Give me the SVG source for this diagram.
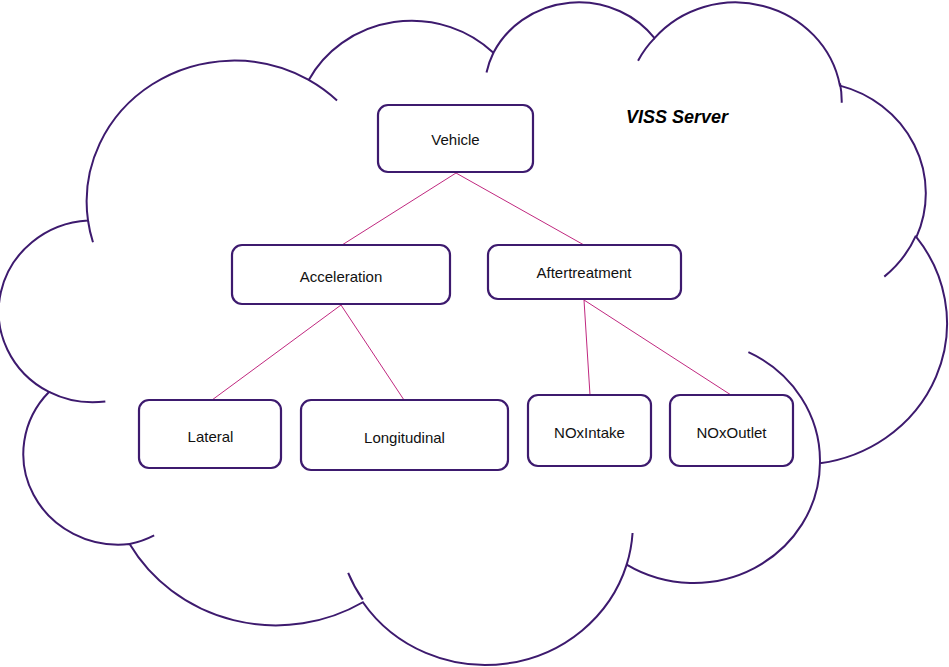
<svg xmlns="http://www.w3.org/2000/svg" width="949" height="667" viewBox="0 0 949 667">
<style>
.cloud{fill:none;stroke:#3d1a6e;stroke-width:2;stroke-linecap:butt}
.box{fill:#fff;stroke:#3d1a6e;stroke-width:2.2}
.lbl{font-family:"Liberation Sans",Arial,sans-serif;font-size:15px;fill:#111;text-anchor:middle}
.title{font-family:"Liberation Sans",Arial,sans-serif;font-size:18px;font-weight:bold;font-style:italic;fill:#000;text-anchor:middle}
.conn{stroke:#c0287f;stroke-width:1;fill:none}
</style>
<rect x="0" y="0" width="949" height="667" fill="#fff"/>
<g id="cloud" transform="translate(2.81,0.15) scale(0.021846,0.015334)">
<path class="cloud" vector-effect="non-scaling-stroke" d="M3900 14370 A6753 9190 0 0 1 14005 5202 A5333 7267 0 0 1 22457 3432 A4365 5945 0 0 1 29834 2480 A4857 6595 0 0 1 38319 5576 A5333 7273 0 0 1 41819 15459 A6775 9220 0 0 1 37405 30203 A5785 7867 0 0 1 28557 36813 A6752 9215 0 0 1 16482 39266 A7720 10543 0 0 1 5805 35470 A4360 5918 0 0 1 2113 25551 A4345 5945 0 0 1 3900 14370 Z"/>
<path class="cloud" vector-effect="non-scaling-stroke" d="M4693 26177 A4345 5945 0 0 1 2113 25551 M6928 34899 A4360 5918 0 0 1 5805 35470 M16478 39090 A6752 9215 0 0 1 15809 37348 M28827 34751 A6752 9215 0 0 1 28557 36813 M34129 22954 A5785 7867 0 0 1 37405 30203 M41798 15354 A5333 7273 0 0 1 40350 18030 M38324 5426 A4857 6595 0 0 1 38401 6690 M29078 3952 A4857 6595 0 0 1 29834 2480 M22141 4720 A4365 5945 0 0 1 22457 3432 M14000 5192 A6753 9190 0 0 1 15299 6539 M4127 15789 A6753 9190 0 0 1 3900 14370"/>
</g>
<text class="title" x="677" y="123">VISS Server</text>
<g id="connectors">
<line class="conn" x1="456" y1="173" x2="342" y2="245"/>
<line class="conn" x1="456" y1="173" x2="584" y2="245"/>
<line class="conn" x1="341" y1="305" x2="212" y2="400"/>
<line class="conn" x1="341" y1="305" x2="404" y2="400"/>
<line class="conn" x1="584" y1="300" x2="590" y2="395"/>
<line class="conn" x1="584" y1="300" x2="731" y2="395"/>
</g>
<g id="vehicle"><rect class="box" x="378" y="105" width="155" height="67" rx="10"/><text class="lbl" x="455.5" y="145">Vehicle</text></g>
<g id="acceleration"><rect class="box" x="232" y="245" width="218" height="59" rx="10"/><text class="lbl" x="341" y="281.5">Acceleration</text></g>
<g id="aftertreatment"><rect class="box" x="488" y="245" width="193" height="54" rx="10"/><text class="lbl" x="584" y="277.5">Aftertreatment</text></g>
<g id="lateral"><rect class="box" x="139" y="400" width="142" height="68" rx="10"/><text class="lbl" x="210.5" y="441.5">Lateral</text></g>
<g id="longitudinal"><rect class="box" x="301" y="400" width="207" height="70" rx="10"/><text class="lbl" x="404.5" y="442.5">Longitudinal</text></g>
<g id="noxintake"><rect class="box" x="528" y="395" width="123" height="71" rx="10"/><text class="lbl" x="589.5" y="437.5">NOxIntake</text></g>
<g id="noxoutlet"><rect class="box" x="670" y="395" width="123" height="71" rx="10"/><text class="lbl" x="731.5" y="437.5">NOxOutlet</text></g>
</svg>
